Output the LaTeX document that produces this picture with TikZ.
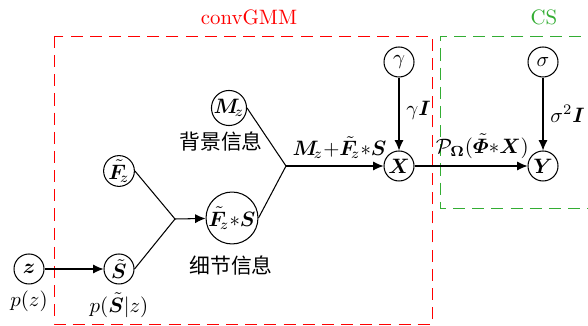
\documentclass[tikz,border=0pt]{standalone}
\usepackage{amsmath,amssymb,bm}
\usepackage{fontspec}
\newfontfamily\cjk{Noto Sans CJK SC}
\usetikzlibrary{arrows.meta}
\begin{document}
\begin{tikzpicture}[x=0.48pt,y=-0.48pt,
  var/.style={draw,circle,line width=0.5pt,inner sep=0pt,minimum size=14.4pt},
  big/.style={draw,circle,line width=0.5pt,inner sep=0pt,minimum size=24pt},
  conn/.style={line width=0.5pt},
  arr/.style={line width=0.5pt,-{Latex[length=5pt,width=4.4pt]}},
  redbox/.style={draw=red,line width=0.4pt,dash pattern=on 5.8pt off 3.4pt},
  greenbox/.style={draw=green!60!black!80,line width=0.4pt,dash pattern=on 5.8pt off 3.4pt},
  lab/.style={inner sep=1pt}]
\useasboundingbox (0,0) rectangle (588,326);
% boxes
\draw[redbox] (54,36) rectangle (432,324);
\draw[greenbox] (600,36) -- (440,36) -- (440,208) -- (600,208);
\node[text=red] (tconv) at (249,17) {convGMM};
\node[text=green!60!black!80] (tcs) at (544,17) {CS};
% nodes
\node[var] (z) at (29,269) {$\bm{z}$};
\node[var] (S) at (119,269) {$\tilde{\bm{S}}$};
\node[var] (F) at (119,171) {$\tilde{\bm{F}}_{\!z}$};
\coordinate (j1) at (175,219);
\node[big] (FS) at (232,218) {$\tilde{\bm{F}}_{\!z}{*}\bm{S}$};
\node[var] (M) at (229,108) {$\bm{M}_{\!z}$};
\coordinate (j2) at (286,166);
\node[var] (X) at (399,166) {$\bm{X}$};
\node[var] (g) at (399,62) {$\gamma$};
\node[var] (Y) at (543,166) {$\bm{Y}$};
\node[var] (s) at (543,62) {$\sigma$};
% labels
\node[lab] (pz) at (29,301) {$p(z)$};
\node[lab] (pS) at (119,305) {$p(\tilde{\bm{S}}|z)$};
\node[lab] (bg) at (221,142) {\cjk 背景信息};
\node[lab] (dt) at (231,266) {\cjk 细节信息};
% connectors
\draw[arr] (z) -- (S);
\draw[conn] (F.east) -- (j1);
\draw[conn] (S.east) -- (j1);
\draw[arr] (j1) -- (FS);
\draw[conn] (M.east) -- (j2);
\draw[conn] (FS.east) -- (j2);
\draw[arr] (j2) -- node[above,pos=0.55] {$\bm{M}_{\!z}{+}\tilde{\bm{F}}_{\!z}{*}\bm{S}$} (X);
\draw[arr] (g) -- node[right,pos=0.45] {$\gamma\bm{I}$} (X);
\draw[arr] (s) -- node[right,pos=0.5] {$\sigma^2\bm{I}$} (Y);
\draw[arr] (X) -- node[above,pos=0.6] {$\mathcal{P}_{\bm{\Omega}}(\tilde{\bm{\varPhi}}{*}\bm{X})$} (Y);
\end{tikzpicture}
\end{document}
